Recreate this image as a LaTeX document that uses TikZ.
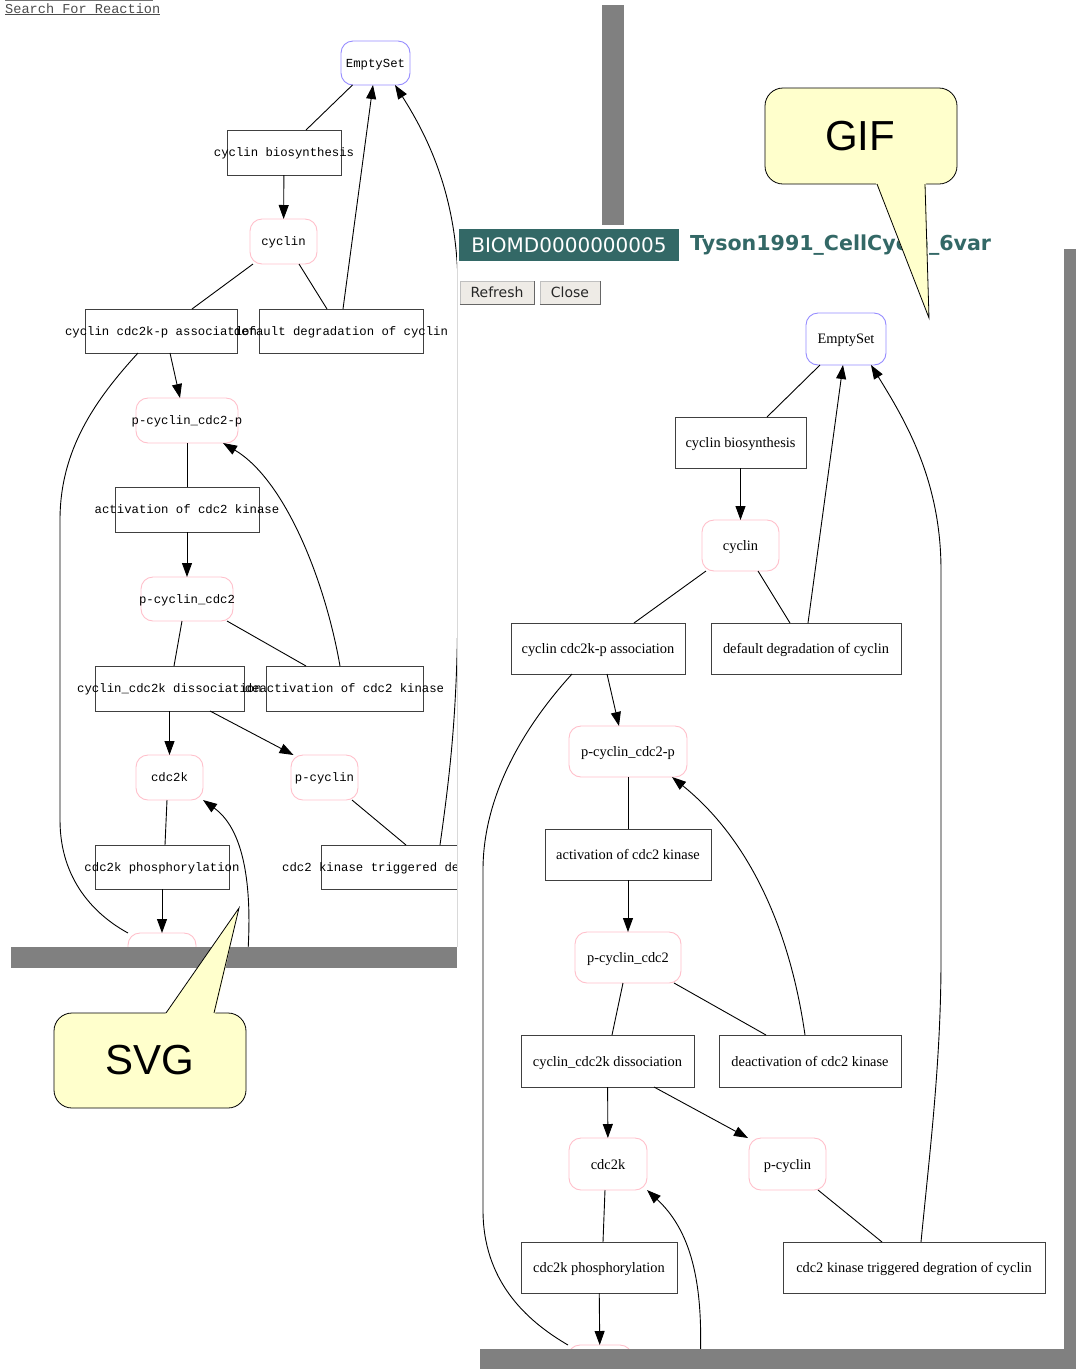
\documentclass[tikz,border=0pt]{standalone}
\usepackage{fontspec}
\setmainfont{Liberation Serif}
\setmonofont{Liberation Mono}
\setsansfont{DejaVu Sans}
\newfontfamily\callfont{Liberation Sans}
\usetikzlibrary{arrows.meta}
\definecolor{titleteal}{RGB}{51,104,102}
\definecolor{shadowgray}{RGB}{128,128,128}
\definecolor{callfill}{RGB}{255,255,204}
\definecolor{specpink}{RGB}{255,192,203}
\definecolor{setblue}{RGB}{150,140,255}
\definecolor{buttonfill}{RGB}{238,235,230}
\newcommand{\zw}[1]{\makebox[0pt]{#1}}
\tikzset{
        svgtext/.style={font=\fontsize{12.3}{14}\selectfont\ttfamily, text depth=0pt},
        giftext/.style={font=\fontsize{14.4}{16}\selectfont\rmfamily, text depth=0pt},
        sz/.style 2 args={minimum width=#1, minimum height=#2},
        reaction/.style={draw=black!75, line width=1pt, inner sep=0pt, outer sep=0pt},
        species/.style={draw=specpink, line width=0.9pt, rounded corners=12pt, inner sep=0pt, outer sep=0pt},
        emptyset/.style={species, draw=setblue},
        link/.style={black, line width=0.9pt},
        flow/.style={link, -{Triangle[length=14pt,width=10pt]}},
        shadowbar/.style={fill=shadowgray},
        button/.style={fill=buttonfill, draw=black!25, inner sep=0pt, text=black!85, font=\fontsize{14}{16}\selectfont\sffamily},
        callout/.style={draw=black, line width=0.8pt, fill=callfill, rounded corners=18pt},
        }

\begin{document}
\begin{tikzpicture}[x=1pt,y=-1pt]
	\useasboundingbox (0,0) rectangle (1076,1369);

	% SVG window.....................
	\begin{scope}
		\clip (0,0) rectangle (457,947);

		% species.....................
		\node [emptyset, sz={69}{44}, svgtext] (lES) at (375.5,63) {\zw{EmptySet}};
		\node [species, sz={67}{45}, svgtext] (lcyc) at (283.5,241.5) {\zw{cyclin}};
		\node [species, sz={102}{45}, svgtext] (lpcp) at (187,420.5) {\zw{p-cyclin\_cdc2-p}};
		\node [species, sz={92}{44}, svgtext] (lpc) at (187,599) {\zw{p-cyclin\_cdc2}};
		\node [species, sz={67}{45}, svgtext] (lcdk) at (169.5,777.5) {\zw{cdc2k}};
		\node [species, sz={67}{45}, svgtext] (lpcy) at (324.5,777.5) {\zw{p-cyclin}};
		\node [species, sz={68}{45}, svgtext] (lbot) at (162,955.5) {};

		% reactions...................
		\node [reaction, sz={114}{45}, svgtext] (lbio) at (284,152.5) {\zw{cyclin biosynthesis}};
		\node [reaction, sz={152}{44}, svgtext] (lass) at (161,331) {\zw{cyclin cdc2k-p association}};
		\node [reaction, sz={164}{44}, svgtext] (ldeg) at (341,331) {\zw{default degradation of cyclin}};
		\node [reaction, sz={144}{45}, svgtext] (lact) at (187,509.5) {\zw{activation of cdc2 kinase}};
		\node [reaction, sz={149}{45}, svgtext] (ldis) at (169.5,688.5) {\zw{cyclin\_cdc2k dissociation}};
		\node [reaction, sz={157}{45}, svgtext] (ldea) at (344.5,688.5) {\zw{deactivation of cdc2 kinase}};
		\node [reaction, sz={134}{44}, svgtext] (lpho) at (162,867) {\zw{cdc2k phosphorylation}};
		\node [reaction, sz={225}{44}, svgtext] (ltrg) at (433.5,867) {\zw{cdc2 kinase triggered degration of cyclin}};

		% edges.......................
		\draw [link] ([xshift=-23pt]lES.south) -- ([xshift=22pt]lbio.north);
		\draw [flow] (lbio) -- (lcyc);
		\draw [link] ([xshift=-30.5pt]lcyc.south) -- ([xshift=31pt]lass.north);
		\draw [link] ([xshift=15.5pt]lcyc.south) -- ([xshift=-14pt]ldeg.north);
		\draw [flow] ([xshift=2pt]ldeg.north) -- ([xshift=-2.5pt]lES.south);
		\draw [flow] ([xshift=6.5pt]ltrg.north) .. controls (452,760) and (458,700) .. (458,580) -- (458,290) .. controls (458,200) and (430,140) .. ([xshift=19.5pt]lES.south);
		\draw [flow] ([xshift=9pt]lass.south) -- ([xshift=-7pt]lpcp.north);
		\draw [link] ([xshift=-23pt]lass.south) .. controls (95,400) and (60,450) .. (60,520) -- (60,820) .. controls (60,880) and (95,915) .. (lbot.north west);
		\draw [link] (lpcp) -- (lact);
		\draw [flow] (lact) -- (lpc);
		\draw [link] ([xshift=-5pt]lpc.south) -- ([xshift=4.5pt]ldis.north);
		\draw [link] ([xshift=40pt]lpc.south) -- ([xshift=-38.5pt]ldea.north);
		\draw [flow] ([xshift=-4.5pt]ldea.north) .. controls (325,580) and (285,480) .. ([xshift=36pt]lpcp.south);
		\draw [flow] (ldis) -- (lcdk);
		\draw [flow] ([xshift=40.5pt]ldis.south) -- ([xshift=-31pt]lpcy.north);
		\draw [link] ([xshift=-2.5pt]lcdk.south) -- ([xshift=3pt]lpho.north);
		\draw [flow] (lpho) -- (lbot);
		\draw [link] ([xshift=27.5pt]lpcy.south) -- ([xshift=-27.5pt]ltrg.north);
		\coordinate (lsrc) at (247,965);
		\draw [flow] (lsrc) .. controls (254,880) and (242,828) .. (lcdk.south east);
	\end{scope}

	% SVG window shadow and link.....
	\fill [shadowbar] (602,5) rectangle (624,225);
	\fill [shadowbar] (11,947) rectangle (457,968);
	\draw [black!55, line width=1pt] (5,0.6) -- (153,0.6);
	\node [anchor=base west, inner sep=0pt, text=black!70, font=\fontsize{13.6}{15}\selectfont\ttfamily] (search) at (5,13) {\underline{Search For Reaction}};

	% GIF window.....................
	\fill [white] (457,225) rectangle (1064,1349);
	\draw [black!15] (457.5,262) -- (457.5,947);
	\node [fill=titleteal, text=white, sz={220}{32}, inner sep=0pt, font=\fontsize{20}{24}\selectfont\sffamily] (rid) at (569,245) {BIOMD0000000005};
	\node [anchor=west, inner sep=0pt, text=titleteal, font=\fontsize{20.6}{24}\selectfont\sffamily\bfseries] (rname) at (690,245) {Tyson1991\_CellCycle\_6var};
	\node [button, sz={74}{23}] (rrefresh) at (497,292.5) {Refresh};
	\node [button, sz={60}{23}] (rclose) at (570,292.5) {Close};
	\draw [black!60, line width=1.2pt] (rrefresh.south west) -- (rrefresh.south east) -- (rrefresh.north east);
	\draw [black!60, line width=1.2pt] (rclose.south west) -- (rclose.south east) -- (rclose.north east);

	\begin{scope}
		\clip (457,225) rectangle (1064,1349);

		% species.....................
		\node [emptyset, sz={80}{52}, giftext] (rES) at (846,339) {\zw{EmptySet}};
		\node [species, sz={77}{51}, giftext] (rcyc) at (740.5,545.5) {\zw{cyclin}};
		\node [species, sz={118}{51}, giftext] (rpcp) at (628,751.5) {\zw{p-cyclin\_cdc2-p}};
		\node [species, sz={106}{51}, giftext] (rpc) at (628,957.5) {\zw{p-cyclin\_cdc2}};
		\node [species, sz={78}{52}, giftext] (rcdk) at (608,1164) {\zw{cdc2k}};
		\node [species, sz={77}{52}, giftext] (rpcy) at (787.5,1164) {\zw{p-cyclin}};
		\node [species, sz={64}{52}, giftext] (rbot) at (600,1371) {};

		% reactions...................
		\node [reaction, sz={131}{51}, giftext] (rbio) at (740.5,442.5) {\zw{cyclin biosynthesis}};
		\node [reaction, sz={174}{51}, giftext] (rass) at (598,648.5) {\zw{cyclin cdc2k-p association}};
		\node [reaction, sz={190}{51}, giftext] (rdeg) at (806,648.5) {\zw{default degradation of cyclin}};
		\node [reaction, sz={166}{51}, giftext] (ract) at (628,854.5) {\zw{activation of cdc2 kinase}};
		\node [reaction, sz={173}{52}, giftext] (rdis) at (607.5,1061) {\zw{cyclin\_cdc2k dissociation}};
		\node [reaction, sz={182}{52}, giftext] (rdea) at (810,1061) {\zw{deactivation of cdc2 kinase}};
		\node [reaction, sz={156}{51}, giftext] (rpho) at (599,1267.5) {\zw{cdc2k phosphorylation}};
		\node [reaction, sz={262}{51}, giftext] (rtrg) at (914,1267.5) {\zw{cdc2 kinase triggered degration of cyclin}};

		% edges.......................
		\draw [link] ([xshift=-26pt]rES.south) -- ([xshift=26.5pt]rbio.north);
		\draw [flow] (rbio) -- (rcyc);
		\draw [link] ([xshift=-34.5pt]rcyc.south) -- ([xshift=36pt]rass.north);
		\draw [link] ([xshift=17.5pt]rcyc.south) -- ([xshift=-16pt]rdeg.north);
		\draw [flow] ([xshift=2pt]rdeg.north) -- ([xshift=-3pt]rES.south);
		\draw [flow] ([xshift=7pt]rtrg.north) .. controls (930,1150) and (941,1060) .. (941,960) -- (941,570) .. controls (941,480) and (905,420) .. ([xshift=25pt]rES.south);
		\draw [flow] ([xshift=9pt]rass.south) -- ([xshift=-9pt]rpcp.north);
		\draw [link] ([xshift=-26pt]rass.south) .. controls (530,720) and (483,790) .. (483,870) -- (483,1210) .. controls (483,1280) and (525,1320) .. (rbot.north west);
		\draw [link] (rpcp) -- (ract);
		\draw [flow] (ract) -- (rpc);
		\draw [link] ([xshift=-5pt]rpc.south) -- ([xshift=4.5pt]rdis.north);
		\draw [link] ([xshift=46pt]rpc.south) -- ([xshift=-44pt]rdea.north);
		\draw [flow] ([xshift=-5pt]rdea.north) .. controls (790,930) and (750,840) .. ([xshift=44pt]rpcp.south);
		\draw [flow] (rdis) -- (rcdk);
		\draw [flow] ([xshift=46.5pt]rdis.south) -- ([xshift=-39.5pt]rpcy.north);
		\draw [link] ([xshift=-3pt]rcdk.south) -- ([xshift=4pt]rpho.north);
		\draw [flow] (rpho) -- (rbot);
		\draw [link] ([xshift=30.5pt]rpcy.south) -- ([xshift=-32pt]rtrg.north);
		\coordinate (rsrc) at (700,1365);
		\draw [flow] (rsrc) .. controls (704,1280) and (690,1230) .. (rcdk.south east);
	\end{scope}

	% GIF window shadow...............
	\fill [shadowbar] (1064,249) rectangle (1076,1349);
	\fill [shadowbar] (480,1349) rectangle (1076,1369);

	% callouts........................
	\filldraw [callout] (54,1013) rectangle (246,1108);
	\fill [callfill] (165,1014.5) -- (239,908) -- (215,1014.5) -- cycle;
	\draw [line width=0.8pt] (166,1013) -- (239,908) -- (214,1013);
	\node [font=\callfont\fontsize{42}{48}\selectfont] (svglbl) at (150,1060) {SVG};

	\filldraw [callout] (765,88) rectangle (957,184);
	\fill [callfill] (876,183) -- (929,318) -- (926,183) -- cycle;
	\draw [line width=0.8pt] (877,184) -- (929,318) -- (925,184);
	\node [font=\callfont\fontsize{42}{48}\selectfont] (giflbl) at (860,136) {GIF};

\end{tikzpicture}
\end{document}
